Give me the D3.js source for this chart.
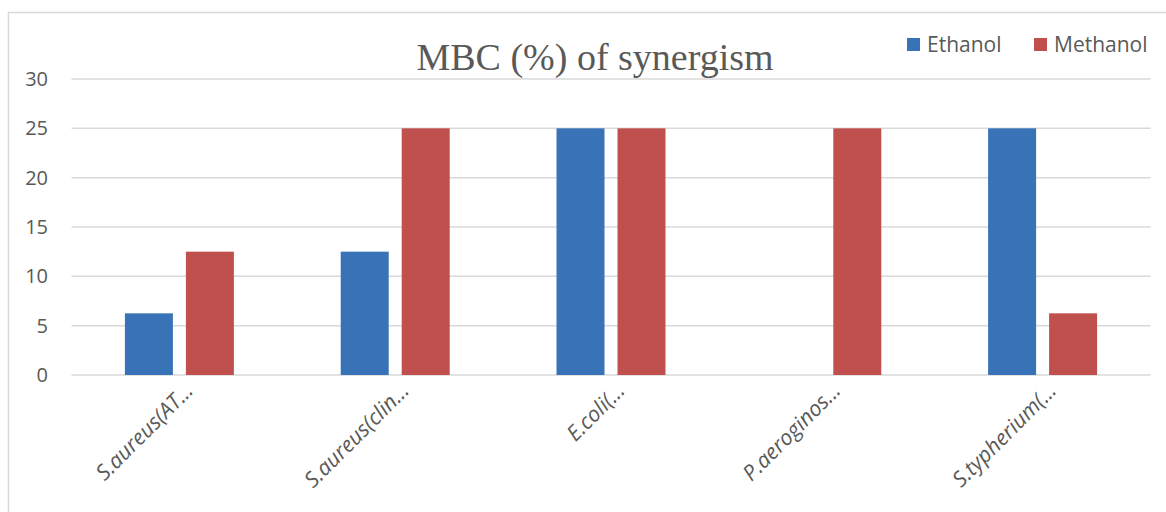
<!DOCTYPE html>
<html>
<head>
<meta charset="utf-8">
<script src="https://cdn.jsdelivr.net/npm/d3@7"></script>
<style>
  body { margin: 0; background: #fff; }
  svg { display: block; }
</style>
</head>
<body>
<svg id="chart" width="1166" height="512"></svg>
<script>
const categories = ["S.aureus(AT...", "S.aureus(clin...", "E.coli(...", "P.aeroginos...", "S.typherium(..."];
const seriesNames = ["Ethanol", "Methanol"];
const ethanol = [6.25, 12.5, 25, 0, 25];
const methanol = [12.5, 25, 25, 25, 6.25];
const yTicks = [0, 5, 10, 15, 20, 25, 30];
const colors = ["#3873B7", "#C0504D"];
const title = "MBC (%) of synergism";

const svg = d3.select("#chart");
const W = 1166, H = 512;
const plot = { left: 71.5, right: 1150.5, top: 79, bottom: 375 };
const sans = "'Open Sans', 'Noto Sans', sans-serif";

// chart border
svg.append("path")
  .attr("d", `M8.5,${H} L8.5,12.5 L${W},12.5`)
  .attr("fill", "none").attr("stroke", "#d9d9d9").attr("stroke-width", 1.5);

const x = d3.scaleBand().domain(categories).range([plot.left, plot.right]).paddingInner(0).paddingOuter(0);
const y = d3.scaleLinear().domain([0, 30]).range([plot.bottom, plot.top]);

// gridlines
svg.append("g").selectAll("line").data(yTicks).join("line")
  .attr("x1", plot.left).attr("x2", plot.right)
  .attr("y1", d => y(d)).attr("y2", d => y(d))
  .attr("stroke", "#d9d9d9").attr("stroke-width", 1.5);

// y labels
const yAxis = d3.axisLeft(y).tickValues(yTicks).tickSize(0).tickPadding(0);
const gy = svg.append("g").attr("transform", `translate(48,0)`).call(yAxis);
gy.select(".domain").remove();
gy.selectAll("text").attr("font-family", sans)
  .attr("font-size", 20).attr("fill", "#595959");

// bars
const barW = 48, gap = 13;
const data = categories.map((c, i) => ({ c, vals: [ethanol[i], methanol[i]] }));
const sub = d3.scaleBand().domain([0, 1]).range([-(barW + gap / 2), barW + gap / 2]).paddingInner(gap / (barW + gap)).paddingOuter(0);
const groups = svg.append("g").selectAll("g").data(data).join("g")
  .attr("transform", d => `translate(${x(d.c) + x.bandwidth() / 2},0)`);
groups.selectAll("rect").data(d => d.vals.map((v, k) => ({ v, k })).filter(e => e.v > 0)).join("rect")
  .attr("x", e => sub(e.k)).attr("width", sub.bandwidth())
  .attr("y", e => y(e.v)).attr("height", e => y(0) - y(e.v))
  .attr("fill", e => colors[e.k]);

// x labels
svg.append("g").selectAll("text").data(categories).join("text")
  .attr("transform", d => `translate(${x(d) + x.bandwidth() / 2 + 15},${plot.bottom + 17}) rotate(-45)`)
  .attr("text-anchor", "end")
  .attr("font-family", sans)
  .attr("font-style", "italic")
  .attr("font-size", 21.5).attr("fill", "#595959")
  .text(d => d);

// title
svg.append("text").attr("x", 595).attr("y", 70).attr("text-anchor", "middle")
  .attr("font-family", "'Liberation Serif', 'Times New Roman', serif")
  .attr("font-size", 38).attr("fill", "#595959").text(title);

// legend
const legendX = [907, 1034];
const lg = svg.append("g").selectAll("g").data(seriesNames).join("g")
  .attr("transform", (d, i) => `translate(${legendX[i]},38)`);
lg.append("rect").attr("width", 13).attr("height", 13).attr("fill", (d, i) => colors[i]);
lg.append("text").attr("x", 20).attr("y", 14)
  .attr("font-family", sans)
  .attr("font-size", 21).attr("fill", "#595959").text(d => d);
</script>
</body>
</html>
